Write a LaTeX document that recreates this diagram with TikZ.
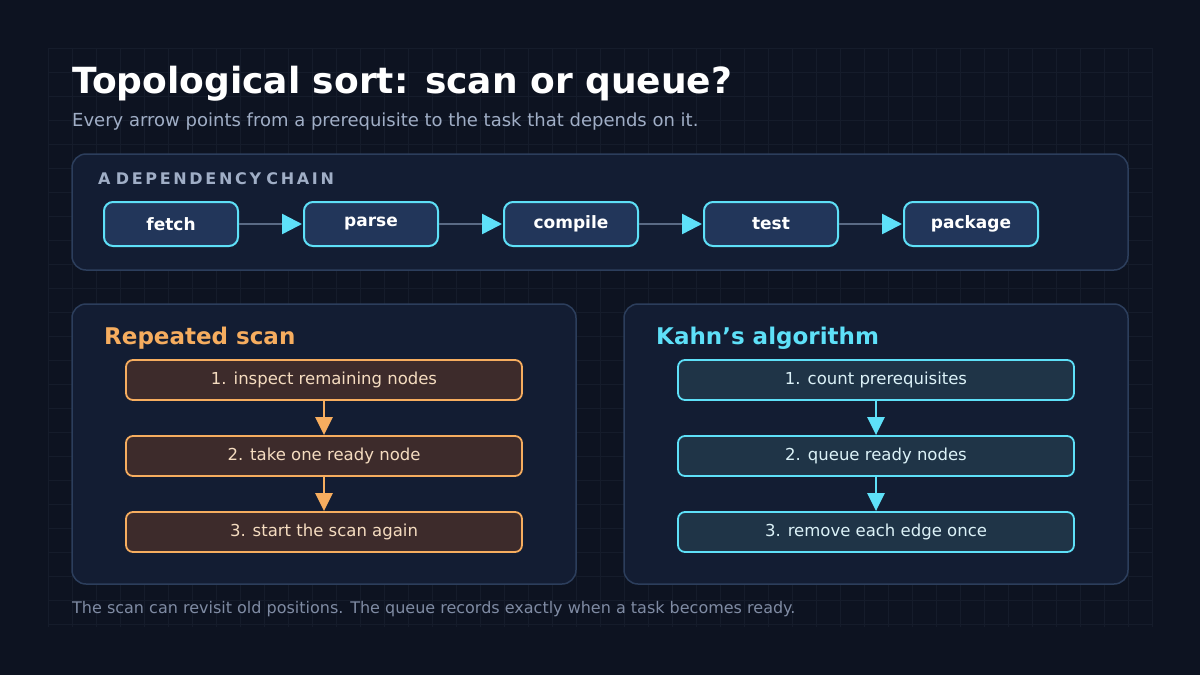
\documentclass[tikz,border=0pt]{standalone}
\usepackage{fontspec}
\setmainfont{DejaVu Sans}
\usetikzlibrary{arrows.meta}
\definecolor{bg}{HTML}{0D1321}
\definecolor{grid}{HTML}{151C2B}
\definecolor{panel}{HTML}{131D33}
\definecolor{pborder}{HTML}{2C3E5C}
\definecolor{cyan}{HTML}{5EE0F8}
\definecolor{chainfill}{HTML}{22365A}
\definecolor{orange}{HTML}{F6AD5F}
\definecolor{ofill}{HTML}{3D2B2B}
\definecolor{otext}{HTML}{F5DCC0}
\definecolor{cfill}{HTML}{1F3447}
\definecolor{ctext}{HTML}{DCF2F8}
\definecolor{sub}{HTML}{A0AEC6}
\definecolor{foot}{HTML}{7F8BA3}
\definecolor{edge}{HTML}{5A6A85}
\tikzset{
 panel/.style={draw=pborder,fill=panel,line width=1.5pt,rounded corners=14pt},
 chain/.style={draw=cyan,fill=chainfill,line width=2pt,rounded corners=9pt,minimum width=134pt,minimum height=44pt,inner sep=0pt,text=white,font=\fontsize{17}{20}\selectfont\bfseries},
 ostep/.style={draw=orange,fill=ofill,line width=1.8pt,rounded corners=7pt,minimum width=396pt,minimum height=40pt,inner sep=0pt,text=otext,font=\fontsize{16.5}{20}\selectfont},
 cstep/.style={ostep,draw=cyan,fill=cfill,text=ctext},
 carrow/.style={draw=edge,line width=2.5pt,-{Triangle[length=20pt,width=20pt,color=cyan,fill=cyan]},shorten >=1pt},
 oarrow/.style={draw=orange,line width=2.5pt,-{Triangle[length=18pt,width=17pt]}},
 karrow/.style={draw=cyan,line width=2.5pt,-{Triangle[length=18pt,width=17pt]}},
}
\begin{document}
\begin{tikzpicture}[x=1pt,y=-1pt]
\fill[bg] (0,0) rectangle (1200,675);
\useasboundingbox (0,0) rectangle (1200,675);
\draw[grid,line width=0.6pt,step=24pt] (48,48) grid (1152,627);
\node[anchor=base west,text=white,font=\fontsize{36}{40}\selectfont\bfseries,inner sep=0pt] (title) at (72,93) {Topological sort: scan or queue?};
\node[anchor=base west,text=sub,font=\fontsize{18}{22}\selectfont,inner sep=0pt] (subtitle) at (72,126) {Every arrow points from a prerequisite to the task that depends on it.};
\draw[panel] (72,154) rectangle (1128,270);
\node[anchor=base west,text=sub,font=\fontsize{16}{20}\selectfont\bfseries,inner sep=0pt] (chainlbl) at (98,184) {A\,\,D\,E\,P\,E\,N\,D\,E\,N\,C\,Y\,\,C\,H\,A\,I\,N};
\node[chain] (fetch) at (171,224) {fetch};
\node[chain] (parse) at (371,224) {parse};
\node[chain] (compile) at (571,224) {compile};
\node[chain] (test) at (771,224) {test};
\node[chain] (package) at (971,224) {package};
\foreach \a/\b in {fetch/parse,parse/compile,compile/test,test/package}
  \draw[carrow] (\a) -- (\b);
\draw[panel] (72,304) rectangle (576,584);
\draw[panel] (624,304) rectangle (1128,584);
\node[anchor=base west,text=orange,font=\fontsize{23}{26}\selectfont\bfseries,inner sep=0pt] (lt) at (104,344) {Repeated scan};
\node[anchor=base west,text=cyan,font=\fontsize{23}{26}\selectfont\bfseries,inner sep=0pt] (rt) at (656,344) {Kahn's algorithm};
\node[ostep] (o1) at (324,380) {1. inspect remaining nodes};
\node[ostep] (o2) at (324,456) {2. take one ready node};
\node[ostep] (o3) at (324,532) {3. start the scan again};
\draw[oarrow] (o1) -- (o2);
\draw[oarrow] (o2) -- (o3);
\node[cstep] (k1) at (876,380) {1. count prerequisites};
\node[cstep] (k2) at (876,456) {2. queue ready nodes};
\node[cstep] (k3) at (876,532) {3. remove each edge once};
\draw[karrow] (k1) -- (k2);
\draw[karrow] (k2) -- (k3);
\node[anchor=base west,text=foot,font=\fontsize{16}{20}\selectfont,inner sep=0pt] (footer) at (72,613) {The scan can revisit old positions. The queue records exactly when a task becomes ready.};
\end{tikzpicture}
\end{document}
